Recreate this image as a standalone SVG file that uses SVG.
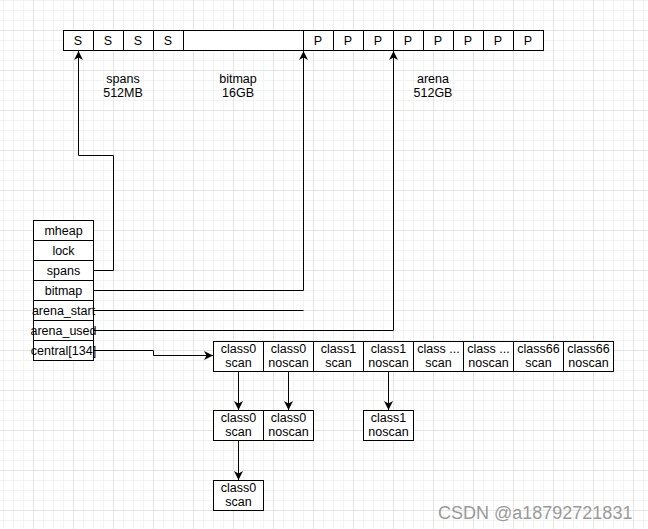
<svg xmlns="http://www.w3.org/2000/svg" width="648" height="529" viewBox="0 0 648 529">
<defs>
<pattern id="grid" x="-7" y="-10" width="40" height="40" patternUnits="userSpaceOnUse">
<rect x="10" y="0" width="1" height="40" fill="#f3f3f3"/>
<rect x="20" y="0" width="1" height="40" fill="#f3f3f3"/>
<rect x="30" y="0" width="1" height="40" fill="#f3f3f3"/>
<rect x="0" y="10" width="40" height="1" fill="#f3f3f3"/>
<rect x="0" y="20" width="40" height="1" fill="#f3f3f3"/>
<rect x="0" y="30" width="40" height="1" fill="#f3f3f3"/>
<rect x="0" y="0" width="1" height="40" fill="#e4e4e4"/>
<rect x="0" y="0" width="40" height="1" fill="#e4e4e4"/>
</pattern>
<marker id="arr" markerUnits="userSpaceOnUse" markerWidth="12" markerHeight="12" refX="9" refY="4.5" orient="auto">
<path d="M0,0 L9,4.5 L0,9 L2.5,4.5 Z" fill="#000"/>
</marker>
</defs>
<style>
.b{fill:#fff;stroke:#000;stroke-width:1}
.t{font-family:"Liberation Sans",Arial,sans-serif;font-size:12.5px;fill:#000;text-anchor:middle}
.c{fill:none;stroke:#000;stroke-width:1}
</style>
<rect width="648" height="529" fill="#fff"/>
<rect width="648" height="529" fill="url(#grid)"/>

<g id="memory">
<rect class="b" x="63.5" y="30.5" width="480" height="20"/>
<path class="c" d="M93.5,30.5V50.5M123.5,30.5V50.5M153.5,30.5V50.5M183.5,30.5V50.5M303.5,30.5V50.5M333.5,30.5V50.5M363.5,30.5V50.5M393.5,30.5V50.5M423.5,30.5V50.5M453.5,30.5V50.5M483.5,30.5V50.5M513.5,30.5V50.5"/>
<text class="t" x="78" y="45">S</text>
<text class="t" x="108" y="45">S</text>
<text class="t" x="138" y="45">S</text>
<text class="t" x="168" y="45">S</text>
<text class="t" x="318" y="45">P</text>
<text class="t" x="348" y="45">P</text>
<text class="t" x="378" y="45">P</text>
<text class="t" x="408" y="45">P</text>
<text class="t" x="438" y="45">P</text>
<text class="t" x="468" y="45">P</text>
<text class="t" x="498" y="45">P</text>
<text class="t" x="528" y="45">P</text>
</g>
<g id="labels">
<text class="t" x="123" y="83">spans</text>
<text class="t" x="123" y="97">512MB</text>
<text class="t" x="238" y="83">bitmap</text>
<text class="t" x="238" y="97">16GB</text>
<text class="t" x="433" y="83">arena</text>
<text class="t" x="433" y="97">512GB</text>
</g>

<g id="mheap">
<rect class="b" x="33.5" y="220.5" width="60" height="140"/>
<path class="c" d="M33.5,240.5H93.5M33.5,260.5H93.5M33.5,280.5H93.5M33.5,300.5H93.5M33.5,320.5H93.5M33.5,340.5H93.5"/>
<text class="t" x="63.5" y="235">mheap</text>
<text class="t" x="63.5" y="255">lock</text>
<text class="t" x="63.5" y="275">spans</text>
<text class="t" x="63.5" y="295">bitmap</text>
<text class="t" x="63.5" y="315">arena_start</text>
<text class="t" x="63.5" y="335">arena_used</text>
<text class="t" x="63.5" y="355">central[134]</text>
</g>

<g id="central">
<rect class="b" x="213.5" y="341.5" width="400" height="30"/>
<path class="c" d="M263.5,341.5V371.5M313.5,341.5V371.5M363.5,341.5V371.5M413.5,341.5V371.5M463.5,341.5V371.5M513.5,341.5V371.5M563.5,341.5V371.5"/>
<text class="t" x="238.5" y="353">class0</text><text class="t" x="238.5" y="367">scan</text>
<text class="t" x="288.5" y="353">class0</text><text class="t" x="288.5" y="367">noscan</text>
<text class="t" x="338.5" y="353">class1</text><text class="t" x="338.5" y="367">scan</text>
<text class="t" x="388.5" y="353">class1</text><text class="t" x="388.5" y="367">noscan</text>
<text class="t" x="438.5" y="353">class ...</text><text class="t" x="438.5" y="367">scan</text>
<text class="t" x="488.5" y="353">class ...</text><text class="t" x="488.5" y="367">noscan</text>
<text class="t" x="538.5" y="353">class66</text><text class="t" x="538.5" y="367">scan</text>
<text class="t" x="588.5" y="353">class66</text><text class="t" x="588.5" y="367">noscan</text>
</g>

<g id="list0">
<rect class="b" x="213.5" y="410.5" width="50" height="30"/>
<rect class="b" x="263.5" y="410.5" width="50" height="30"/>
<text class="t" x="238.5" y="422">class0</text><text class="t" x="238.5" y="436">scan</text>
<text class="t" x="288.5" y="422">class0</text><text class="t" x="288.5" y="436">noscan</text>
</g>
<g id="list1">
<rect class="b" x="363.5" y="410.5" width="50" height="30"/>
<text class="t" x="388.5" y="422">class1</text><text class="t" x="388.5" y="436">noscan</text>
</g>
<g id="list2">
<rect class="b" x="213.5" y="480.5" width="50" height="30"/>
<text class="t" x="238.5" y="492">class0</text><text class="t" x="238.5" y="506">scan</text>
</g>

<g id="connectors">
<path class="c" d="M93.5,270.5H113.5V155.5H78.5V51" marker-end="url(#arr)"/>
<path class="c" d="M93.5,290.5H303.5V51" marker-end="url(#arr)"/>
<path class="c" d="M93.5,310.5H303.5"/>
<path class="c" d="M93.5,330.5H393.5V51" marker-end="url(#arr)"/>
<path class="c" d="M93.5,350.5H153.5V355.5H213" marker-end="url(#arr)"/>
<path class="c" d="M238.5,371.5V410" marker-end="url(#arr)"/>
<path class="c" d="M288.5,371.5V410" marker-end="url(#arr)"/>
<path class="c" d="M388.5,371.5V410" marker-end="url(#arr)"/>
<path class="c" d="M238.5,440.5V480" marker-end="url(#arr)"/>
</g>

<text x="438" y="519" style="font-family:'Liberation Sans',Arial,sans-serif;font-size:18px;fill:#9a9a9a">CSDN @a18792721831</text>
</svg>
